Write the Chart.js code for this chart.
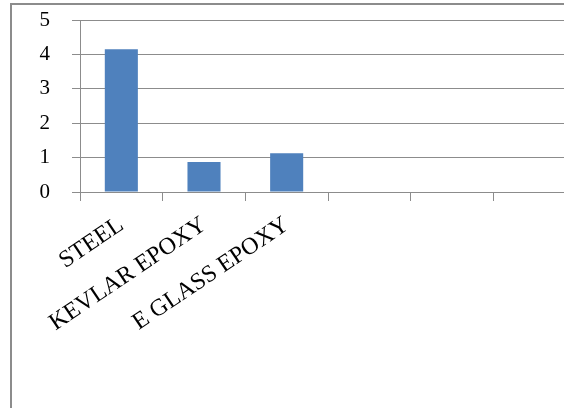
<!DOCTYPE html>
<html>
<head>
<meta charset="utf-8">
<script src="https://cdn.jsdelivr.net/npm/chart.js@4/dist/chart.umd.min.js"></script>
<style>
  html, body { margin: 0; padding: 0; overflow: hidden; background: #fff; width: 564px; height: 408px; }
  #frame { position: absolute; left: 10px; top: 3px; width: 700px; height: 600px;
           border-left: 2px solid #8c8c8c; border-top: 2px solid #8c8c8c; }
  #wrap { position: absolute; left: 0; top: 0; width: 576px; height: 408px; }
</style>
</head>
<body>
<div id="frame"></div>
<div id="wrap"><canvas id="c" width="576" height="408"></canvas></div>
<script>
const categories = ['STEEL', 'KEVLAR EPOXY', 'E GLASS EPOXY', '', '', ''];
const values = [4.15, 0.87, 1.13, null, null, null];
const yTicks = [0, 1, 2, 3, 4, 5];

const serif = "'Liberation Serif', 'DejaVu Serif', serif";

new Chart(document.getElementById('c'), {
  type: 'bar',
  data: {
    labels: categories,
    datasets: [{
      data: values,
      backgroundColor: '#4F81BD',
      borderWidth: 0,
      categoryPercentage: 1.0,
      barPercentage: 0.4
    }]
  },
  options: {
    responsive: false,
    animation: false,
    layout: { padding: { top: 20, right: 0, bottom: 0, left: 0 } },
    plugins: { legend: { display: false }, tooltip: { enabled: false } },
    scales: {
      x: {
        offset: true,
        grid: { display: true, drawOnChartArea: false, drawTicks: true, tickLength: 9, color: '#8c8c8c', offset: true },
        border: { display: true, color: '#8c8c8c', width: 1 },
        ticks: {
          color: '#000',
          font: { family: serif, size: 24 },
          minRotation: 34, maxRotation: 34,
          autoSkip: false,
          padding: 10
        },
        afterFit: (s) => { s.height = 408 - 192; s.paddingTop = 0; s.paddingBottom = 0; }
      },
      y: {
        min: 0, max: 5,
        afterBuildTicks: (s) => { s.ticks = yTicks.map(v => ({ value: v })); },
        grid: { color: '#8c8c8c', tickLength: 8, drawTicks: true },
        border: { display: true, color: '#8c8c8c', width: 1 },
        ticks: {
          color: '#000',
          font: { family: serif, size: 21 },
          padding: 22
        },
        afterFit: (s) => { s.width = 80; s.paddingTop = 0; s.paddingBottom = 0; }
      }
    }
  }
});
</script>
</body>
</html>
